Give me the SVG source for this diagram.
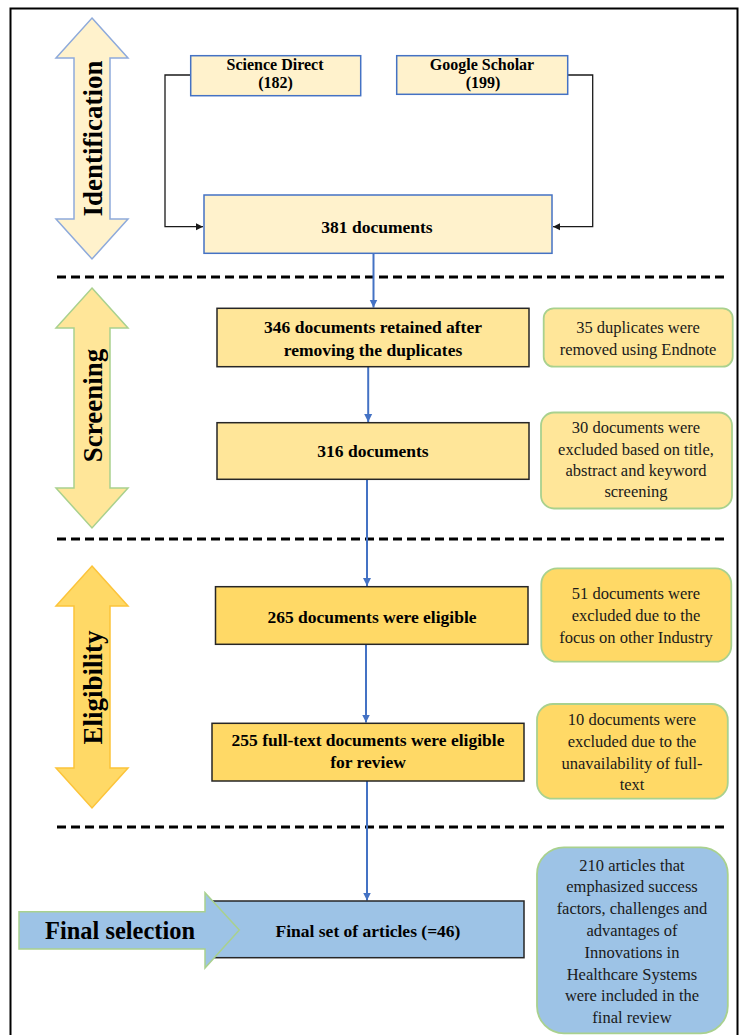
<svg xmlns="http://www.w3.org/2000/svg" width="741" height="1035" viewBox="0 0 741 1035">
<defs>
<style>
text{font-family:'Liberation Serif','Tinos','DejaVu Serif',serif;fill:#000;text-anchor:middle}
.b{font-weight:bold;font-size:17.5px}
.s{font-size:16.5px;fill:#1a1a1a}
.phase{font-weight:bold;font-size:27px}
.src{fill:#fff2cc;stroke:#4472c4;stroke-width:1.5}
.y1{fill:#ffe699;stroke:#262626;stroke-width:1.5}
.y2{fill:#ffd966;stroke:#262626;stroke-width:1.5}
.bl{fill:#9dc3e6;stroke:#262626;stroke-width:1.5}
.sy1{fill:#ffe699;stroke:#a9d18e;stroke-width:1.8}
.sy2{fill:#ffd966;stroke:#a9d18e;stroke-width:1.8}
.sbl{fill:#9dc3e6;stroke:#a9d18e;stroke-width:1.8}
.blk{fill:none;stroke:#1a1a1a;stroke-width:1.3}
.blue{fill:none;stroke:#4472c4;stroke-width:2}
.dash{stroke:#000;stroke-width:3;stroke-dasharray:9 5}
</style>
<marker id="ab" markerWidth="8" markerHeight="8" refX="7" refY="4" orient="auto" markerUnits="userSpaceOnUse">
<path d="M0,0.5 L7,4 L0,7.5 Z" fill="#1a1a1a"/>
</marker>
<marker id="au" markerWidth="9" markerHeight="9" refX="8" refY="4.5" orient="auto" markerUnits="userSpaceOnUse">
<path d="M0,0.5 L8,4.5 L0,8.5 Z" fill="#4472c4"/>
</marker>
</defs>
<rect x="10.5" y="8.5" width="727" height="1040" fill="#fff" stroke="#000" stroke-width="2"/>
<g id="dividers">
<line class="dash" x1="57" y1="277" x2="729" y2="277"/>
<line class="dash" x1="57" y1="539" x2="729" y2="539"/>
<line class="dash" x1="57" y1="827" x2="729" y2="827"/>
</g>
<g id="phase-identification">
<polygon points="92,18 128,58 110,58 110,219 128,219 92,259 56,219 74,219 74,58 56,58" fill="#fff2cc" stroke="#8eaadb" stroke-width="1.5"/>
<text class="phase" font-family="Liberation Serif, serif" transform="translate(102,138.5) rotate(-90)">Identification</text>
</g>
<g id="phase-screening">
<polygon points="92,288 128,328 110,328 110,488 128,488 92,528 56,488 74,488 74,328 56,328" fill="#ffe699" stroke="#a9d18e" stroke-width="1.5"/>
<text class="phase" transform="translate(102,405.5) rotate(-90)">Screening</text>
</g>
<g id="phase-eligibility">
<polygon points="92,566 128,606 110,606 110,768 128,768 92,808 56,768 74,768 74,606 56,606" fill="#ffd966" stroke="#fcc43a" stroke-width="1.5"/>
<text class="phase" transform="translate(102,687.5) rotate(-90)">Eligibility</text>
</g>
<g id="connectors">
<polyline class="blk" points="190.7,75 165,75 165,226.7 203,226.7" marker-end="url(#ab)"/>
<polyline class="blk" points="567.7,75 592.7,75 592.7,226.7 553,226.7" marker-end="url(#ab)"/>
<line class="blue" x1="373.5" y1="253.5" x2="373.5" y2="307.5" marker-end="url(#au)"/>
<line class="blue" x1="368.2" y1="367" x2="368.2" y2="422" marker-end="url(#au)"/>
<line class="blue" x1="367" y1="479.5" x2="367" y2="586" marker-end="url(#au)"/>
<line class="blue" x1="366" y1="644.5" x2="366" y2="722.5" marker-end="url(#au)"/>
<line class="blue" x1="367" y1="781" x2="367" y2="900.5" marker-end="url(#au)"/>
</g>
<g id="node-science-direct">
<rect class="src" x="190.7" y="55.7" width="170" height="40"/>
<text class="b" x="275" y="70" style="font-size:16px">Science Direct</text>
<text class="b" x="275.5" y="87.5" style="font-size:16px">(182)</text>
</g>
<g id="node-google-scholar">
<rect class="src" x="396.7" y="55.7" width="171" height="38.6"/>
<text class="b" x="482" y="70" style="font-size:16px">Google Scholar</text>
<text class="b" x="483" y="87.5" style="font-size:16px">(199)</text>
</g>
<g id="node-381">
<rect class="src" x="204" y="195" width="348" height="58.3"/>
<text class="b" x="377" y="233">381 documents</text>
</g>
<g id="node-346">
<rect class="y1" x="217" y="308.3" width="312" height="58.4"/>
<text class="b" x="373" y="332.7">346 documents retained after</text>
<text class="b" x="373" y="356">removing the duplicates</text>
</g>
<g id="node-excl-35">
<rect class="sy1" x="543.7" y="308.3" width="189" height="58.4" rx="10"/>
<text class="s" x="638" y="333.3">35 duplicates were</text>
<text class="s" x="638" y="354.5">removed using Endnote</text>
</g>
<g id="node-316">
<rect class="y1" x="217" y="422.7" width="312" height="56.6"/>
<text class="b" x="373" y="456.7">316 documents</text>
</g>
<g id="node-excl-30">
<rect class="sy1" x="541" y="412.5" width="191" height="96" rx="13"/>
<text class="s" x="636" y="433">30 documents were</text>
<text class="s" x="636" y="454.5">excluded based on title,</text>
<text class="s" x="636" y="476">abstract and keyword</text>
<text class="s" x="636" y="497">screening</text>
</g>
<g id="node-265">
<rect class="y2" x="215.5" y="586.7" width="312.5" height="57.6"/>
<text class="b" x="372" y="622.7">265 documents were eligible</text>
</g>
<g id="node-excl-51">
<rect class="sy2" x="541.3" y="568.3" width="190" height="93.4" rx="16"/>
<text class="s" x="636" y="598.5">51 documents were</text>
<text class="s" x="636" y="621">excluded due to the</text>
<text class="s" x="636" y="643.3">focus on other Industry</text>
</g>
<g id="node-255">
<rect class="y2" x="212" y="723.3" width="312" height="57.7"/>
<text class="b" x="368" y="745.7">255 full-text documents were eligible</text>
<text class="b" x="368" y="768.3">for review</text>
</g>
<g id="node-excl-10">
<rect class="sy2" x="537" y="704" width="190.8" height="94.7" rx="16"/>
<text class="s" x="632" y="725">10 documents were</text>
<text class="s" x="632" y="746.7">excluded due to the</text>
<text class="s" x="632" y="769">unavailability of full-</text>
<text class="s" x="632" y="789.5">text</text>
</g>
<g id="node-final">
<rect class="bl" x="212.8" y="901" width="311.2" height="56.7"/>
<text class="b" x="368" y="936.7">Final set of articles (=46)</text>
</g>
<g id="phase-final-selection">
<polygon points="19,911.7 205,911.7 205,892.7 239.3,930 205,968 205,949 19,949" fill="#9dc3e6" stroke="#a9d18e" stroke-width="1.5"/>
<text x="120" y="939.3" style="font-weight:bold;font-size:26px" textLength="150" lengthAdjust="spacingAndGlyphs">Final selection</text>
</g>
<g id="node-included-210">
<rect class="sbl" x="537" y="847.3" width="190.8" height="186" rx="27"/>
<text class="s" x="632" y="870.5">210 articles that</text>
<text class="s" x="632" y="892.3">emphasized success</text>
<text class="s" x="632" y="914.1">factors, challenges and</text>
<text class="s" x="632" y="935.9">advantages of</text>
<text class="s" x="632" y="957.7">Innovations in</text>
<text class="s" x="632" y="979.5">Healthcare Systems</text>
<text class="s" x="632" y="1001.3">were included in the</text>
<text class="s" x="632" y="1023.1">final review</text>
</g>
</svg>
